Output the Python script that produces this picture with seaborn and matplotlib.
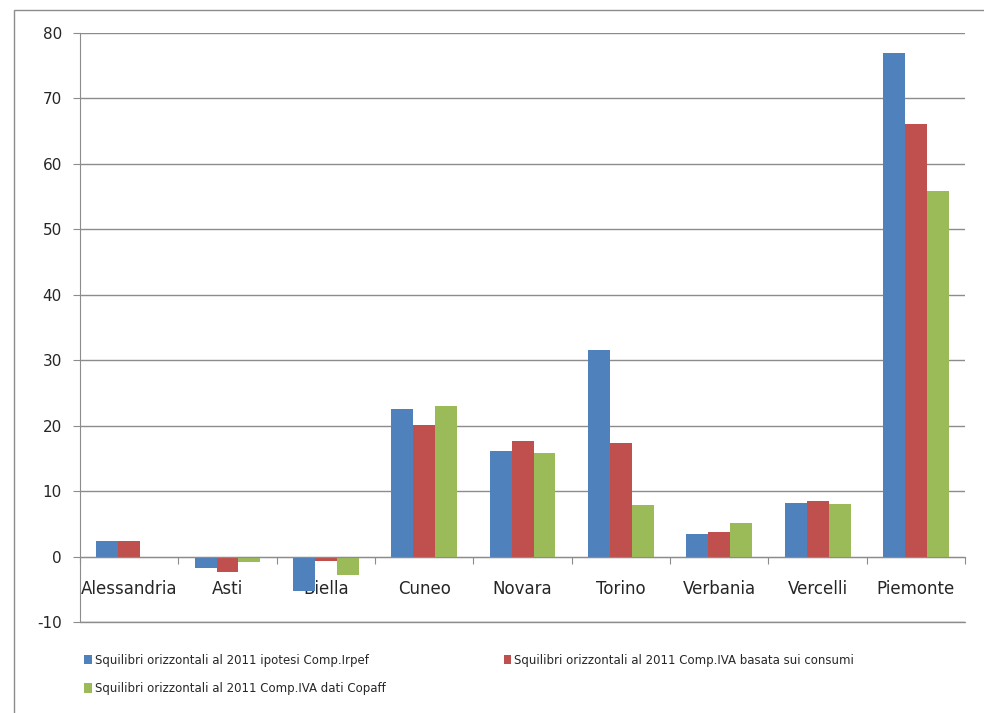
import numpy as np
import pandas as pd
import matplotlib
matplotlib.use("Agg")
import matplotlib.pyplot as plt
import seaborn as sns
from matplotlib.patches import Rectangle
from matplotlib.ticker import FuncFormatter

# Data
province = ["Alessandria", "Asti", "Biella", "Cuneo", "Novara",
            "Torino", "Verbania", "Vercelli", "Piemonte"]
comp_irpef = [2.4, -1.8, -5.2, 22.6, 16.2, 31.5, 3.5, 8.2, 77.0]
comp_iva_consumi = [2.4, -2.4, -0.7, 20.1, 17.7, 17.4, 3.8, 8.5, 66.1]
comp_iva_copaff = [0.0, -0.9, -2.8, 23.0, 15.9, 7.9, 5.2, 8.1, 55.9]
series_names = [
    "Squilibri orizzontali al 2011 ipotesi Comp.Irpef",
    "Squilibri orizzontali al 2011 Comp.IVA basata sui consumi",
    "Squilibri orizzontali al 2011 Comp.IVA dati Copaff",
]
colors = ["#4F81BD", "#C0504D", "#9BBB59"]

df = pd.DataFrame({
    "Provincia": province,
    series_names[0]: comp_irpef,
    series_names[1]: comp_iva_consumi,
    series_names[2]: comp_iva_copaff,
})
long_df = df.melt(id_vars="Provincia", var_name="Serie", value_name="Valore")

sns.set_style("white")
plt.rcParams["font.family"] = ["Liberation Sans Narrow", "DejaVu Sans"]

fig = plt.figure(figsize=(9.84, 7.13), dpi=100)
ax = fig.add_axes([0.0813, 0.1276, 0.8995, 0.8261])

sns.barplot(data=long_df, x="Provincia", y="Valore", hue="Serie",
            hue_order=series_names, palette=colors, width=0.67, gap=0,
            saturation=1, linewidth=0, ax=ax, legend=True)

# Y axis
ax.set_ylim(-10, 80)
ax.set_yticks(np.arange(-10, 81, 10))
ax.yaxis.set_major_formatter(FuncFormatter(lambda v, p: f"{v:.0f}"))
ax.yaxis.grid(True, color="#8c8c8c", linewidth=1)
ax.axhline(-10, color="#8c8c8c", linewidth=1, clip_on=False, zorder=0)
ax.set_axisbelow(True)
ax.tick_params(axis="y", labelsize=11, length=5, color="#8c8c8c",
               left=True, pad=8)
ax.set_xlabel("")
ax.set_ylabel("")

# X axis at zero, tick marks between categories
ax.set_xlim(-0.5, len(province) - 0.5)
ax.spines["bottom"].set_position(("data", 0))
ax.spines["bottom"].set_color("#8c8c8c")
ax.spines["left"].set_color("#8c8c8c")
ax.spines["top"].set_visible(False)
ax.spines["right"].set_visible(False)
ax.set_xticks(np.arange(-0.5, len(province)), labels=[""] * (len(province) + 1))
ax.set_xticks(np.arange(len(province)), labels=province, minor=True)
ax.tick_params(axis="x", which="major", direction="out", length=5,
               color="#8c8c8c", bottom=True)
ax.tick_params(axis="x", which="minor", length=0, labelsize=12, pad=17)

# Legend below the plot, filled row by row
handles, labels = ax.get_legend_handles_labels()
ax.get_legend().remove()
order = [0, 2, 1]
fig.legend([handles[i] for i in order], [labels[i] for i in order],
           loc="upper left", bbox_to_anchor=(0.075, 0.098),
           ncol=2, frameon=False, fontsize=8.5, handlelength=0.6,
           handleheight=0.8, handletextpad=0.3, columnspacing=10,
           labelspacing=1.3)

# Outer chart border
fig.patches.append(Rectangle((14 / 984, -0.01), 1.0, 1 - 10 / 713 + 0.01,
                             transform=fig.transFigure, fill=False,
                             edgecolor="#8c8c8c", linewidth=1))

fig.savefig("out.png", dpi=100)
